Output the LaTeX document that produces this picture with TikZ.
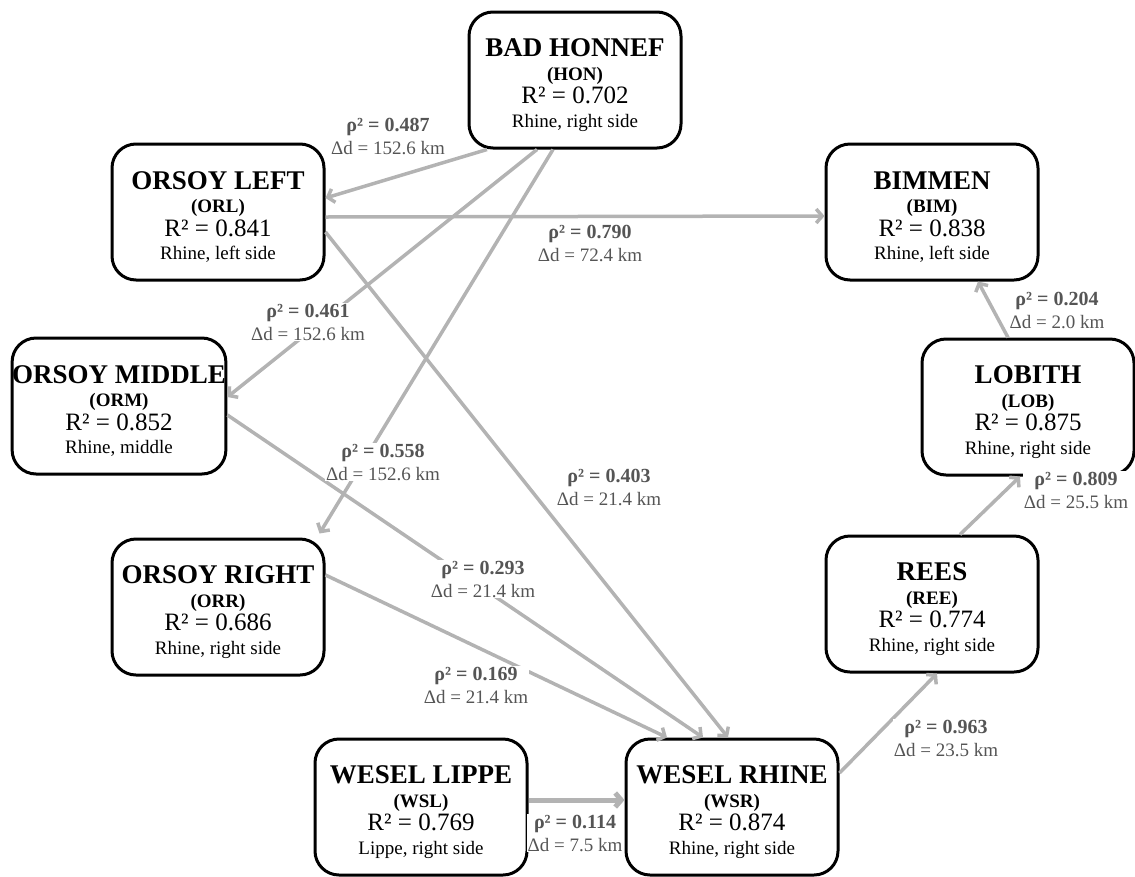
\documentclass[tikz,border=0pt]{standalone}
\usepackage{fontspec}
\setmainfont{Liberation Serif}
\usetikzlibrary{arrows.meta}

\definecolor{linkgray}{HTML}{B3B3B3}
\definecolor{labelgray}{HTML}{555555}

\newcommand{\station}[4]{{\fontsize{27}{27}\selectfont\bfseries\rule{0pt}{28pt}#1}\\{\bfseries (#2)}\\{\fontsize{25}{25}\selectfont R² = #3}\\#4}
\newcommand{\corr}[2]{{\fontsize{20}{20}\selectfont\bfseries ρ² = #1}\\Δd = #2 km}

\begin{document}
\begin{tikzpicture}[x=1pt, y=-1pt,
  station/.style={draw, line width=3pt, rounded corners=24pt, fill=white,
    minimum width=212pt, minimum height=136pt, align=center, inner sep=0pt,
    font=\fontsize{19}{23.5}\selectfont},
  link/.style={draw=linkgray, line width=3.5pt, -{Straight Barb[length=6pt,width=14pt]}},
  corrlabel/.style={fill=white, text=labelgray, align=center, inner sep=1pt,
    font=\fontsize{19}{23}\selectfont}]
\useasboundingbox (0,0) rectangle (1135,876);

% stations
\node[station] (HON) at (575,80) {\station{BAD HONNEF}{HON}{0.702}{Rhine, right side}};
\node[station] (ORL) at (218,212) {\station{ORSOY LEFT}{ORL}{0.841}{Rhine, left side}};
\node[station] (BIM) at (932,212) {\station{BIMMEN}{BIM}{0.838}{Rhine, left side}};
\node[station] (ORM) at (119,406) {\station{ORSOY MIDDLE}{ORM}{0.852}{Rhine, middle}};
\node[station] (LOB) at (1028,407) {\station{LOBITH}{LOB}{0.875}{Rhine, right side}};
\node[station] (ORR) at (218,607) {\station{ORSOY RIGHT}{ORR}{0.686}{Rhine, right side}};
\node[station] (REE) at (932,604) {\station{REES}{REE}{0.774}{Rhine, right side}};
\node[station] (WSL) at (421,807) {\station{WESEL LIPPE}{WSL}{0.769}{Lippe, right side}};
\node[station] (WSR) at (732,807) {\station{WESEL RHINE}{WSR}{0.874}{Rhine, right side}};

% links
\draw[link] ([xshift=-88pt]HON.south) -- ([yshift=14pt]ORL.east);
\draw[link] ([yshift=-5pt]ORL.east) -- ([yshift=-4pt]BIM.west);
\draw[link] ([xshift=-38pt]HON.south) -- ([yshift=9pt]ORM.east);
\draw[link] ([xshift=-22pt]HON.south) -- ([xshift=-6pt,yshift=4pt]ORR.north east);
\draw[link] ([yshift=-20pt]ORL.east) -- ([xshift=-4pt]WSR.north);
\draw[link] ([yshift=-9pt]ORM.east) -- ([xshift=-29pt]WSR.north);
\draw[link] ([yshift=32pt]ORR.east) -- ([xshift=-65pt]WSR.north);
\draw[link, line width=5pt] ([yshift=7pt]WSL.east) -- ([yshift=7pt]WSR.west);
\draw[link] ([yshift=34pt]WSR.east) -- ([xshift=5pt]REE.south);
\draw[link] ([xshift=28pt]REE.north) -- ([xshift=-8pt]LOB.south);
\draw[link] ([xshift=-20pt]LOB.north) -- ([xshift=46pt]BIM.south);

% correlations
\node[corrlabel] (cHONORL) at (388,136) {\corr{0.487}{152.6}};
\node[corrlabel] (cORLBIM) at (590,243) {\corr{0.790}{72.4}};
\node[corrlabel] (cHONORM) at (308,322) {\corr{0.461}{152.6}};
\node[corrlabel] (cHONORR) at (383,462) {\corr{0.558}{152.6}};
\node[corrlabel] (cORLWSR) at (609,487) {\corr{0.403}{21.4}};
\node[corrlabel] (cORMWSR) at (483,579) {\corr{0.293}{21.4}};
\node[corrlabel] (cORRWSR) at (476,685) {\corr{0.169}{21.4}};
\node[corrlabel] (cWSLWSR) at (575,833) {\corr{0.114}{7.5}};
\node[corrlabel] (cWSRREE) at (946,738) {\corr{0.963}{23.5}};
\node[corrlabel] (cREELOB) at (1076,490) {\corr{0.809}{25.5}};
\node[corrlabel] (cLOBBIM) at (1057,310) {\corr{0.204}{2.0}};
\end{tikzpicture}
\end{document}
